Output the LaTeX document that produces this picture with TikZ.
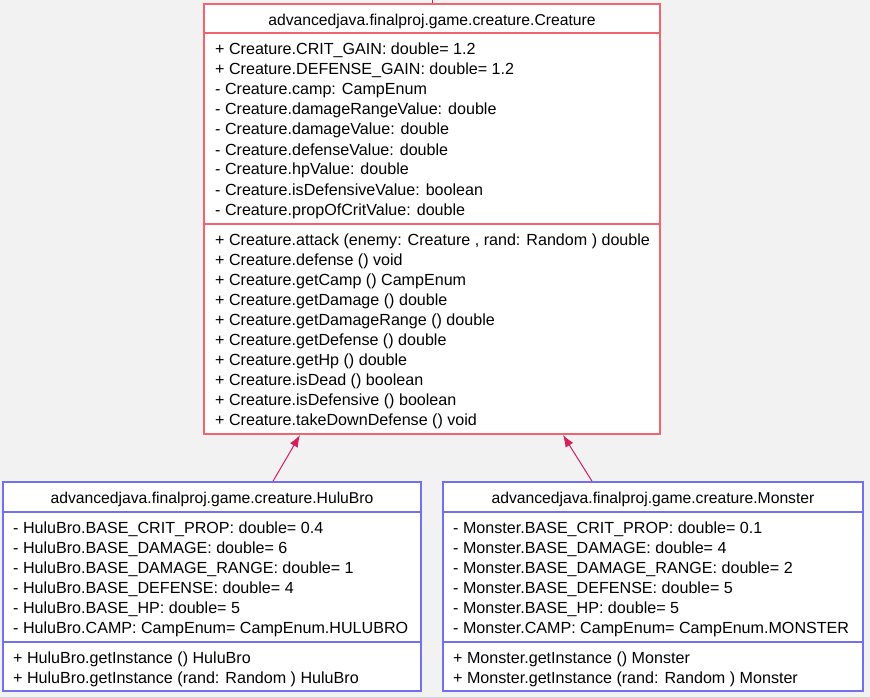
\documentclass[tikz,border=0pt]{standalone}
\usepackage{fontspec}
\setmainfont{Liberation Sans}
\usetikzlibrary{arrows.meta}
\definecolor{bgc}{RGB}{242,242,242}
\definecolor{redc}{RGB}{240,100,112}
\definecolor{bluec}{RGB}{112,112,240}
\definecolor{arrc}{RGB}{214,32,90}
\definecolor{edgec}{RGB}{210,210,210}
\begin{document}
\begin{tikzpicture}[x=1pt,y=-1pt,
  rowfont/.style={font=\fontsize{16.1}{20}\selectfont},
  hdrfont/.style={font=\fontsize{15.7}{20}\selectfont},
  rowtxt/.style={rowfont, anchor=base west, inner sep=0pt, text=black},
  hdrtxt/.style={hdrfont, anchor=base, inner sep=0pt, text=black},
  redbox/.style={draw=redc, line width=1.6pt, fill=white, rectangle, inner sep=0pt},
  bluebox/.style={draw=bluec, line width=1.6pt, fill=white, rectangle, inner sep=0pt},
  redsep/.style={draw=redc, line width=1.6pt},
  bluesep/.style={draw=bluec, line width=1.6pt},
  inherit/.style={draw=arrc, line width=1pt, -{Latex[length=12pt,width=9pt]}}
]
\fill[bgc] (0,0) rectangle (870,698);
\useasboundingbox (0,0) rectangle (870,698);
\draw[edgec, line width=1pt] (0,697.5) -- (870,697.5);

% ---------- Creature ----------
\node[redbox, minimum width=456pt, minimum height=430pt] (creature) at (432,219) {};
\draw[redsep] (204,33) -- (660,33);
\draw[redsep] (204,224) -- (660,224);
\node[hdrtxt] (creatureHdr) at (432,26) {advancedjava.finalproj.game.creature.Creature};
\foreach \t [count=\i] in {
  {+ Creature.CRIT\_GAIN: double= 1.2},
  {+ Creature.DEFENSE\_GAIN: double= 1.2},
  {- Creature.camp: CampEnum},
  {- Creature.damageRangeValue: double},
  {- Creature.damageValue: double},
  {- Creature.defenseValue: double},
  {- Creature.hpValue: double},
  {- Creature.isDefensiveValue: boolean},
  {- Creature.propOfCritValue: double}}
  \node[rowtxt] (ca\i) at (215,{55+20*(\i-1)}) {\t};
\foreach \t [count=\i] in {
  {+ Creature.attack (enemy: Creature , rand: Random ) double},
  {+ Creature.defense () void},
  {+ Creature.getCamp () CampEnum},
  {+ Creature.getDamage () double},
  {+ Creature.getDamageRange () double},
  {+ Creature.getDefense () double},
  {+ Creature.getHp () double},
  {+ Creature.isDead () boolean},
  {+ Creature.isDefensive () boolean},
  {+ Creature.takeDownDefense () void}}
  \node[rowtxt] (cm\i) at (215,{245+20*(\i-1)}) {\t};

% ---------- HuluBro ----------
\node[bluebox, minimum width=418pt, minimum height=209pt] (hulu) at (212,586.5) {};
\draw[bluesep] (3,512) -- (421,512);
\draw[bluesep] (3,642) -- (421,642);
\node[hdrtxt] (huluHdr) at (212,503) {advancedjava.finalproj.game.creature.HuluBro};
\foreach \t [count=\i] in {
  {- HuluBro.BASE\_CRIT\_PROP: double= 0.4},
  {- HuluBro.BASE\_DAMAGE: double= 6},
  {- HuluBro.BASE\_DAMAGE\_RANGE: double= 1},
  {- HuluBro.BASE\_DEFENSE: double= 4},
  {- HuluBro.BASE\_HP: double= 5},
  {- HuluBro.CAMP: CampEnum= CampEnum.HULUBRO}}
  \node[rowtxt] (ha\i) at (13,{533+20*(\i-1)}) {\t};
\foreach \t [count=\i] in {
  {+ HuluBro.getInstance () HuluBro},
  {+ HuluBro.getInstance (rand: Random ) HuluBro}}
  \node[rowtxt] (hm\i) at (13,{663+20*(\i-1)}) {\t};

% ---------- Monster ----------
\node[bluebox, minimum width=420pt, minimum height=209pt] (monster) at (653,586.5) {};
\draw[bluesep] (443,512) -- (863,512);
\draw[bluesep] (443,642) -- (863,642);
\node[hdrtxt] (monsterHdr) at (653,503) {advancedjava.finalproj.game.creature.Monster};
\foreach \t [count=\i] in {
  {- Monster.BASE\_CRIT\_PROP: double= 0.1},
  {- Monster.BASE\_DAMAGE: double= 4},
  {- Monster.BASE\_DAMAGE\_RANGE: double= 2},
  {- Monster.BASE\_DEFENSE: double= 5},
  {- Monster.BASE\_HP: double= 5},
  {- Monster.CAMP: CampEnum= CampEnum.MONSTER}}
  \node[rowtxt] (ma\i) at (453,{533+20*(\i-1)}) {\t};
\foreach \t [count=\i] in {
  {+ Monster.getInstance () Monster},
  {+ Monster.getInstance (rand: Random ) Monster}}
  \node[rowtxt] (mm\i) at (453,{663+20*(\i-1)}) {\t};

% ---------- connectors ----------
\coordinate (topEnd) at (432,0);
\draw[draw=arrc, line width=1pt] (creature.north -| topEnd) -- (topEnd);
\coordinate (huluTip) at (300,435);
\coordinate (monsterTip) at (563,435);
\draw[inherit] (hulu.north -| 273,0) -- (huluTip);
\draw[inherit] (monster.north -| 592,0) -- (monsterTip);
\end{tikzpicture}
\end{document}
